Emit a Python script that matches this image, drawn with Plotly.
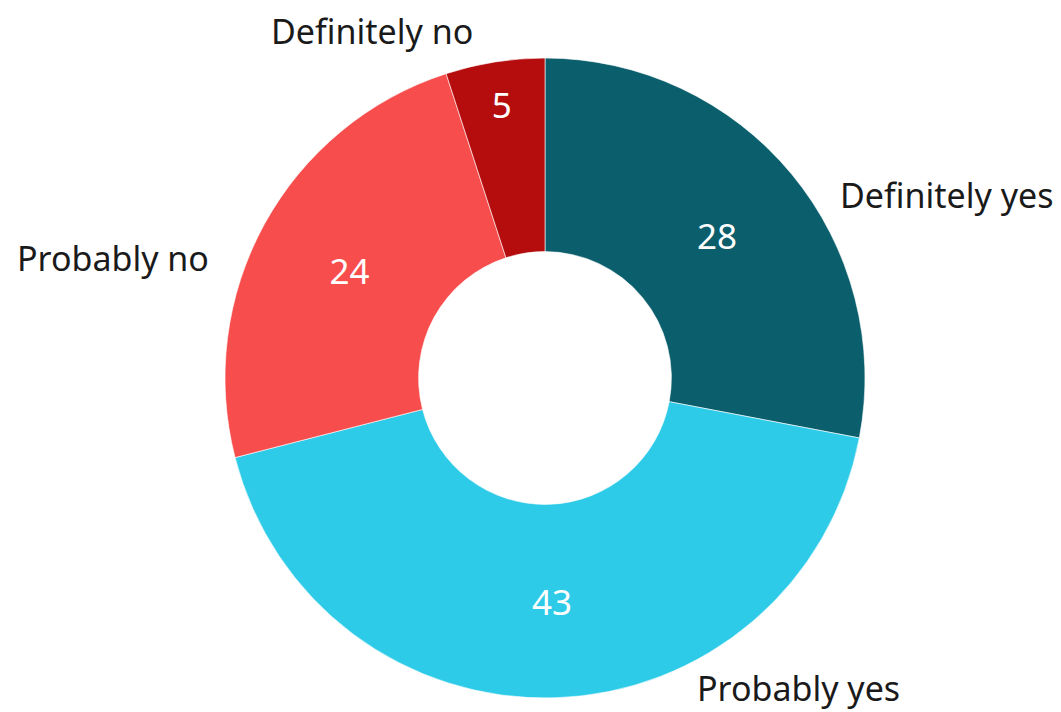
import plotly.graph_objects as go

categories = ["Definitely yes", "Probably yes", "Probably no", "Definitely no"]
values = [28, 43, 24, 5]
colors = ["#0b5e6b", "#2ecbe8", "#f74d4d", "#b50d0d"]

OFF = 8  # page body margin
W, H = 1061 - OFF, 712 - OFF
cx, cy, R = 545 - OFF, 378 - OFF, 320

fig = go.Figure()
fig.add_trace(go.Pie(
    labels=categories,
    values=values,
    sort=False,
    direction="clockwise",
    rotation=0,
    hole=0.395,
    marker=dict(colors=colors, line=dict(color="rgba(255,255,255,0.6)", width=1)),
    texttemplate="%{value}",
    textposition="inside",
    insidetextorientation="horizontal",
    insidetextfont=dict(color="white", size=35, family="Noto Sans"),
    showlegend=False,
    hoverinfo="label+value",
    domain=dict(x=[(cx - R) / W, (cx + R) / W], y=[1 - (cy + R) / H, 1 - (cy - R) / H]),
))

# outside label placement (screen pixels of the label centres)
label_pos = [(946, 195), (798, 688), (113, 258), (372, 31)]
for name, (px, py) in zip(categories, label_pos):
    fig.add_annotation(
        x=(px - OFF) / W, y=1 - (py - OFF) / H, xref="paper", yref="paper",
        text=name, showarrow=False, xanchor="center", yanchor="middle",
        font=dict(size=34, color="#1a1a1a", family="Noto Sans"),
    )

fig.update_layout(
    width=W, height=H,
    margin=dict(l=0, r=0, t=0, b=0),
    paper_bgcolor="white",
    plot_bgcolor="white",
)

fig.write_html("out.html")
